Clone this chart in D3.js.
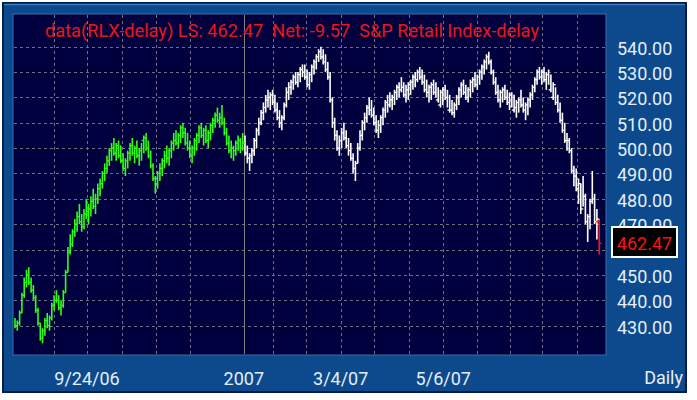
<!DOCTYPE html>
<html>
<head>
<meta charset="utf-8">
<script src="https://d3js.org/d3.v7.min.js"></script>
<style>
  body { margin: 0; background: #fff; }
  svg { display: block; }
  text { font-family: Roboto, "DejaVu Sans", sans-serif; }
</style>
</head>
<body>
<svg id="chart" width="697" height="400"></svg>
<script>
// daily high/low/close, Aug 2006 .. Aug 2007 (2006 bars drawn green)
var lows = [
  429,428,430,435,441,445,446,443,440,435,
  430,424,423,426,429,428,432,436,439,436,
  434,437,443,451,458,461,465,467,470,467,
  468,472,470,473,476,474,478,481,484,487,
  490,493,495,497,495,496,494,491,489,492,
  495,497,494,496,493,495,498,499,496,492,
  487,482,484,487,489,492,494,493,496,499,
  501,500,502,504,501,499,496,494,497,499,
  502,504,501,502,500,503,506,508,510,508,
  509,505,501,498,496,495,497,499,498,499,
  497,494,491,494,497,500,505,509,511,514,
  516,515,517,514,511,508,507,511,516,519,
  521,523,525,524,526,528,527,524,523,526,
  529,531,534,535,533,530,527,518,508,503,
  499,497,500,503,500,497,495,490,487,494,
  499,503,507,510,513,512,509,506,504,506,
  509,512,514,516,515,517,519,520,522,520,
  518,519,521,523,524,526,527,525,522,520,
  518,519,521,520,518,516,517,519,516,514,
  513,512,515,517,520,521,519,518,520,522,
  524,523,525,527,529,531,533,529,525,521,
  518,516,518,519,517,515,516,514,512,514,
  516,514,511,513,516,519,522,525,527,525,
  526,523,525,522,519,517,514,510,506,502,
  499,498,490,485,483,478,474,477,470,463,
  468,478,470,464,458
];
var highs = [
  433,432,436,443,449,452,453,449,446,442,
  437,431,429,433,435,434,439,442,444,442,
  440,444,452,461,466,468,472,475,478,474,
  476,480,478,481,484,482,486,488,491,494,
  497,500,502,504,502,503,501,498,496,499,
  502,504,501,503,500,502,505,506,503,499,
  494,489,491,494,496,499,501,500,503,506,
  507,506,509,510,508,506,503,501,504,506,
  509,510,508,509,507,510,512,514,516,514,
  517,512,508,505,503,501,503,505,504,506,
  505,501,498,500,504,508,512,515,518,521,
  523,522,523,521,518,515,513,518,524,526,
  527,529,530,530,532,533,533,531,530,533,
  535,537,539,540,539,537,534,530,520,512,
  507,505,508,510,507,504,502,498,495,502,
  507,511,514,517,520,519,516,513,511,513,
  516,519,521,522,521,523,525,526,528,526,
  525,526,527,529,530,531,532,531,529,527,
  525,526,527,526,524,523,524,525,523,521,
  519,518,521,524,526,527,525,524,527,528,
  530,529,531,533,535,537,538,535,531,528,
  525,523,524,525,523,522,522,521,519,520,
  523,520,518,520,522,525,528,531,532,531,
  532,530,531,529,526,524,521,518,514,510,
  506,504,500,493,492,488,486,489,482,474,
  480,491,482,476,472
];
var closes = [
  430,431,435,442,447,450,447,444,441,436,
  431,425,428,432,430,433,438,440,440,437,
  438,443,451,459,462,467,470,473,471,469,
  474,475,476,479,477,480,484,486,490,492,
  495,499,500,498,501,497,495,492,495,498,
  501,498,500,497,499,503,504,500,497,493,
  488,486,490,492,495,497,496,499,502,503,
  502,505,508,506,502,500,497,500,503,505,
  508,505,507,503,506,509,511,513,511,512,
  510,506,502,499,500,499,502,503,500,502,
  498,496,497,499,503,507,510,514,516,519,
  520,521,518,515,512,510,512,517,522,524,
  526,528,526,529,531,530,528,525,529,532,
  534,536,538,536,534,531,528,519,510,505,
  500,503,506,504,501,499,496,492,494,500,
  505,510,512,516,515,513,510,507,509,512,
  515,518,517,519,520,522,524,523,524,521,
  523,525,526,528,527,530,528,526,523,522,
  524,525,522,519,517,522,523,520,515,515,
  514,517,520,523,525,522,520,523,526,527,
  525,528,530,532,534,536,534,530,526,522,
  519,522,523,520,518,521,515,516,518,519,
  517,515,517,519,521,524,527,530,528,530,
  527,529,523,520,525,518,515,511,507,503,
  503,499,491,489,484,486,476,481,471,473,
  479,480,471,472,462.47
];
var firstBar2007 = 100;
var lastOpen = 471, net = -9.57;

var priceTicks = [430,440,450,460,470,480,490,500,510,520,530,540];
// week gridlines (bar positions) and the date labels that sit on them
var gridBars = [17.1,31.3,46.7,61.3,76.2,112,126.7,141.6,156.2,171.3,186.2,200.7,215.2,229.3,244.3];
var dateLabels = [
  { bar: 31.3, text: "9/24/06" },
  { bar: 99.5, text: "2007" },
  { bar: 141.6, text: "3/4/07" },
  { bar: 186.2, text: "5/6/07" }
];

var svg = d3.select("#chart");
var plot = { left: 13, top: 14, right: 606, bottom: 355 };
var last = lows.length - 1;
var lastClose = closes[last];

// outer frame
svg.append("rect").attr("x", 3).attr("y", 3).attr("width", 683).attr("height", 389)
  .attr("fill", "#0c4a8d").attr("stroke", "#021d4a").attr("stroke-width", 2);
svg.append("line").attr("x1", 4).attr("x2", 685).attr("y1", 4.5).attr("y2", 4.5)
  .attr("stroke", "#3d7cc4").attr("stroke-width", 1.5);

svg.append("rect").attr("x", plot.left).attr("y", plot.top)
  .attr("width", plot.right - plot.left).attr("height", plot.bottom - plot.top)
  .attr("fill", "#00003e").attr("stroke", "#3a6aa8").attr("stroke-width", 1);

var x = d3.scaleLinear().domain([0, last]).range([15, 599.2]);
var y = d3.scaleLinear().domain([430, 540]).range([325.6, 46.7]);

// grid
var grid = svg.append("g").attr("stroke", "#70727f").attr("stroke-width", 1).attr("stroke-dasharray", "3,3");
grid.selectAll("line.h").data(priceTicks).enter().append("line")
  .attr("x1", plot.left + 1).attr("x2", plot.right - 1)
  .attr("y1", function(d) { return Math.round(y(d)) + 0.5; })
  .attr("y2", function(d) { return Math.round(y(d)) + 0.5; });
grid.selectAll("line.v").data(gridBars).enter().append("line")
  .attr("y1", plot.top + 1).attr("y2", plot.bottom - 1)
  .attr("x1", function(d) { return Math.round(x(d)) + 0.5; })
  .attr("x2", function(d) { return Math.round(x(d)) + 0.5; });

// year separator
svg.append("line")
  .attr("x1", Math.round(x(firstBar2007 - 0.5)) + 0.5).attr("x2", Math.round(x(firstBar2007 - 0.5)) + 0.5)
  .attr("y1", plot.top + 1).attr("y2", plot.bottom - 1)
  .attr("stroke", "#808080").attr("stroke-width", 1);

// bars
var idx = d3.range(lows.length);
function barColor(i) {
  if (i === last) return "#ff1010";
  return i < firstBar2007 ? "#33ff11" : "#ffffff";
}
var bars = svg.append("g");
bars.selectAll("line.hl").data(idx).enter().append("line")
  .attr("x1", function(i) { return x(i); })
  .attr("x2", function(i) { return x(i); })
  .attr("y1", function(i) { return y(highs[i]); })
  .attr("y2", function(i) { return y(lows[i]); })
  .attr("stroke-width", 1.6)
  .attr("stroke", barColor);
bars.selectAll("line.c").data(idx).enter().append("line")
  .attr("x1", function(i) { return x(i); })
  .attr("x2", function(i) { return x(i) + 2.5; })
  .attr("y1", function(i) { return y(closes[i]); })
  .attr("y2", function(i) { return y(closes[i]); })
  .attr("stroke-width", 1.3)
  .attr("stroke", barColor);

// open tick on the last bar
svg.append("line").attr("x1", x(last) - 3).attr("x2", x(last))
  .attr("y1", y(lastOpen)).attr("y2", y(lastOpen)).attr("stroke", "#ff1010").attr("stroke-width", 1.5);

// title
svg.append("text").attr("x", 45).attr("y", 37)
  .attr("font-size", 18.2).attr("fill", "#ee1418")
  .attr("xml:space", "preserve")
  .text("data(RLX-delay) LS: " + lastClose.toFixed(2) + "  Net: " + net.toFixed(2) + "  S&P Retail Index-delay");

// price axis labels (460 sits under the last-price box)
svg.append("g").selectAll("text").data(priceTicks.filter(function(d) { return d !== 460; })).enter().append("text")
  .attr("x", 617).attr("y", function(d) { return y(d) + 8; })
  .attr("font-size", 18).attr("fill", "#e6eef8")
  .text(function(d) { return d.toFixed(2); });

// last price box
svg.append("rect").attr("x", 612).attr("y", 227).attr("width", 65).attr("height", 30)
  .attr("fill", "#000").attr("stroke", "#fff").attr("stroke-width", 2);
svg.append("text").attr("x", 644.5).attr("y", y(lastClose) + 7)
  .attr("text-anchor", "middle").attr("font-size", 18).attr("fill", "#ff1010")
  .text(lastClose.toFixed(2));

// date labels
svg.append("g").selectAll("text").data(dateLabels).enter().append("text")
  .attr("x", function(d) { return x(d.bar); }).attr("y", 385)
  .attr("text-anchor", "middle").attr("font-size", 18).attr("fill", "#e6eef8")
  .text(function(d) { return d.text; });

svg.append("text").attr("x", 683).attr("y", 384).attr("text-anchor", "end")
  .attr("font-size", 18).attr("fill", "#e6eef8").text("Daily");
</script>
</body>
</html>
